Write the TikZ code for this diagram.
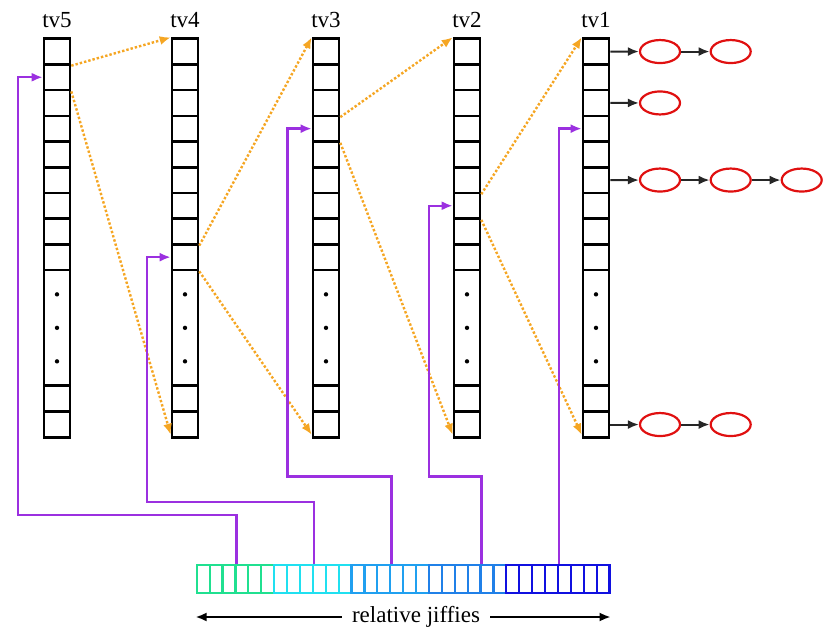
\documentclass[tikz,border=0pt]{standalone}
\usepackage{fontspec}
\setmainfont{Liberation Serif}
\usetikzlibrary{positioning,shapes.geometric,arrows.meta}

\definecolor{jpurple}{HTML}{9B30E0}
\definecolor{jorange}{HTML}{F5A623}
\definecolor{jred}{HTML}{E01010}
\definecolor{bar1}{HTML}{20E090}
\definecolor{bar2}{HTML}{20E0F0}
\definecolor{bar3}{HTML}{20A0F0}
\definecolor{bar4}{HTML}{2080E8}
\definecolor{bar5}{HTML}{1010E0}

\tikzset{
  cell/.style={draw,line width=2.6pt,minimum width=26,minimum height=25.7,inner sep=0},
  slot/.style={draw,line width=2.2pt,minimum width=12.9,minimum height=27.7,inner sep=0},
  timer/.style={ellipse,draw=jred,line width=2.2pt,minimum width=40,minimum height=23,inner sep=0},
  chain/.style={->,line width=2pt,black!85},
  cascade/.style={->,jorange,dotted,line width=2.4pt},
  index/.style={->,jpurple,line width=2.4pt},
}

\begin{document}
\begin{tikzpicture}[x=1pt, y=-1pt, >={Latex[length=11pt,width=9pt]}, font=\fontsize{23}{26}\selectfont]
    \useasboundingbox (0,0) rectangle (836,637);

    % the five vectors
    \foreach \n/\x in {5/57,4/185,3/326,2/467,1/596}{
        \foreach \i in {1,...,9}
            \node[cell] (tv\n-\i) at (\x,{38.7+(\i-0.5)*25.7}) {};
        \node[cell,minimum height=115.7] (tv\n-d) at (\x,327.85) {};
        \node[cell] (tv\n-10) at (\x,398.85) {};
        \node[cell] (tv\n-11) at (\x,424.55) {};
        \foreach \dy in {-33.5,0,33.5}
            \fill ([yshift=\dy]tv\n-d.center) circle (2.2);
        \node[above=9pt of tv\n-1,inner sep=0] (l\n) {tv\n};
    }

    % cascade between vectors
    \draw[cascade] (tv5-1.south east) -- (tv4-1.north west);
    \draw[cascade] (tv5-2.south east) -- ([yshift=4]tv4-11.south west);
    \draw[cascade] (tv4-8.south east) -- (tv3-1.north west);
    \draw[cascade] (tv4-9.south east) -- ([yshift=4]tv3-11.south west);
    \draw[cascade] (tv3-3.south east) -- (tv2-1.north west);
    \draw[cascade] (tv3-4.south east) -- ([yshift=4]tv2-11.south west);
    \draw[cascade] (tv2-6.south east) -- (tv1-1.north west);
    \draw[cascade] (tv2-7.south east) -- ([yshift=4]tv1-11.south west);

    % timer lists hanging on tv1
    \node[timer] (t11) at (660,51.55) {};   \node[timer] (t12) at (730.7,51.55) {};
    \node[timer] (t21) at (660,102.95) {};
    \node[timer] (t31) at (660,180.05) {};  \node[timer] (t32) at (730.7,180.05) {};
    \node[timer] (t33) at (801.7,180.05) {};
    \node[timer] (t41) at (660,424.55) {};  \node[timer] (t42) at (730.7,424.55) {};
    \draw[chain] (tv1-1.east) -- (t11); \draw[chain] (t11) -- (t12);
    \draw[chain] (tv1-3.east) -- (t21);
    \draw[chain] (tv1-6.east) -- (t31); \draw[chain] (t31) -- (t32); \draw[chain] (t32) -- (t33);
    \draw[chain] (tv1-11.east) -- (t41); \draw[chain] (t41) -- (t42);

    % relative jiffies bar
    \foreach \i in {1,...,32}{
        \pgfmathtruncatemacro\g{min(5,int((\i-1)/6)+1)}
        \node[slot,draw=bar\g] (bar-\i) at ({196.7+(\i-0.5)*12.9},578.85) {};
    }
    \node[inner sep=10pt] (rj) at (416,617) {relative jiffies};
    \draw[->,line width=2pt] (rj.west) -- (rj.west -| bar-1.west);
    \draw[->,line width=2pt] (rj.east) -- (rj.east -| bar-32.east);

    % current index of each vector
    \draw[index] (bar-3.north east) |- (18,515) |- (tv5-2.west);
    \draw[index] (bar-9.north east) |- (147,501.7) |- (tv4-9.west);
    \draw[index] (bar-15.north east) |- (287.3,476.5) |- (tv3-4.west);
    \draw[index] (bar-22.north east) |- (429,476.5) |- (tv2-7.west);
    \draw[index] (bar-28.north east) |- (tv1-4.west);
\end{tikzpicture}
\end{document}
